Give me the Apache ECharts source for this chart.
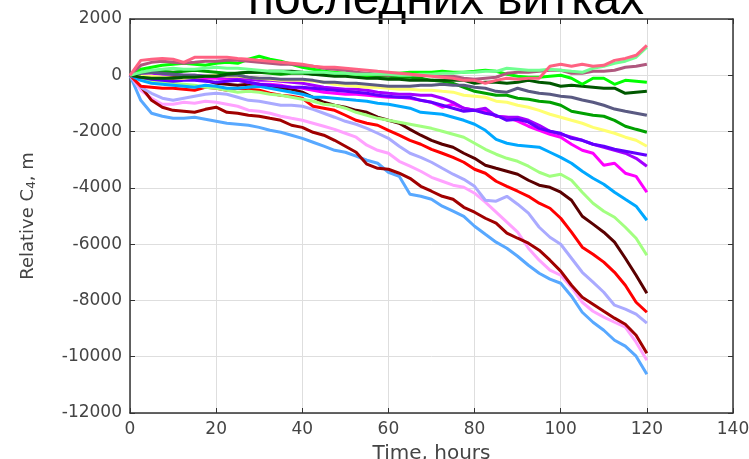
<!DOCTYPE html>
<html>
<head>
<meta charset="utf-8">
<script src="https://cdn.jsdelivr.net/npm/echarts@6/dist/echarts.min.js"></script>
<style>
  html, body { margin: 0; padding: 0; background: #ffffff; }
  #chart { width: 749px; height: 459px; }
</style>
</head>
<body>
<div id="chart"></div>
<script>
// Sampling times, hours
const hours = [0, 2.5, 5, 7.5, 10, 12.5, 15, 17.5, 20, 22.5, 25, 27.5, 30, 32.5, 35, 37.5, 40, 42.5, 45, 47.5, 50, 52.5, 55, 57.5, 60, 62.5, 65, 67.5, 70, 72.5, 75, 77.5, 80, 82.5, 85, 87.5, 90, 92.5, 95, 97.5, 100, 102.5, 105, 107.5, 110, 112.5, 115, 117.5, 120];

// Relative C4 per track, metres
const lightBlue  = [0, -890, -1350, -1455, -1530, -1530, -1490, -1560, -1630, -1705, -1740, -1775, -1850, -1955, -2025, -2130, -2240, -2380, -2520, -2665, -2735, -2875, -3020, -3125, -3445, -3590, -4225, -4300, -4405, -4650, -4830, -5010, -5365, -5650, -5930, -6145, -6430, -6750, -7035, -7245, -7390, -7850, -8420, -8775, -9060, -9415, -9625, -9980, -10620];
const pink       = [0, -530, -815, -1030, -1030, -960, -995, -925, -960, -1030, -1100, -1240, -1280, -1350, -1455, -1530, -1600, -1705, -1810, -1920, -2060, -2200, -2485, -2665, -2770, -3055, -3230, -3410, -3625, -3765, -3905, -3980, -4190, -4510, -4865, -5220, -5575, -6145, -6570, -6925, -7105, -7530, -8065, -8385, -8595, -8775, -8950, -9485, -10125];
const darkRed    = [0, -390, -890, -1135, -1245, -1280, -1315, -1210, -1135, -1315, -1350, -1420, -1455, -1530, -1600, -1775, -1850, -2025, -2130, -2310, -2520, -2735, -3160, -3305, -3340, -3480, -3660, -3945, -4120, -4300, -4405, -4690, -4865, -5080, -5255, -5610, -5790, -5965, -6215, -6570, -6960, -7460, -7885, -8135, -8385, -8630, -8845, -9235, -9875];
const lavender   = [0, -425, -640, -815, -890, -815, -745, -675, -640, -675, -780, -890, -925, -995, -1065, -1065, -1100, -1210, -1350, -1490, -1635, -1740, -1885, -2060, -2240, -2520, -2770, -2915, -3090, -3305, -3515, -3695, -3945, -4440, -4475, -4300, -4580, -4900, -5400, -5755, -6005, -6500, -7000, -7350, -7710, -8170, -8310, -8490, -8810];
const red        = [0, -390, -425, -460, -460, -495, -530, -425, -460, -530, -460, -495, -530, -640, -710, -745, -815, -1100, -1170, -1245, -1420, -1600, -1705, -1775, -1955, -2130, -2310, -2450, -2630, -2770, -2915, -3090, -3340, -3480, -3765, -3945, -4120, -4300, -4545, -4725, -5080, -5575, -6110, -6360, -6640, -7000, -7460, -8065, -8420];
const maroon     = [0, -70, -105, -105, -70, -35, -70, -180, -285, -320, -355, -320, -320, -390, -460, -495, -600, -780, -960, -1065, -1135, -1245, -1315, -1490, -1600, -1705, -1920, -2130, -2310, -2450, -2555, -2770, -2950, -3195, -3305, -3410, -3515, -3730, -3905, -3980, -4155, -4440, -5010, -5290, -5575, -5930, -6500, -7105, -7745];
const lightGreen = [0, -105, -180, -250, -285, -320, -355, -425, -460, -530, -600, -570, -600, -675, -710, -780, -850, -925, -1030, -1065, -1170, -1315, -1420, -1530, -1600, -1670, -1740, -1810, -1885, -1990, -2095, -2200, -2415, -2630, -2805, -2950, -3055, -3230, -3445, -3590, -3515, -3730, -4155, -4545, -4830, -5045, -5400, -5790, -6395];
const skyBlue    = [0, -180, -285, -320, -355, -390, -425, -355, -390, -460, -460, -425, -390, -460, -530, -600, -675, -780, -780, -815, -850, -890, -925, -995, -1030, -1100, -1170, -1315, -1350, -1385, -1490, -1600, -1740, -1955, -2275, -2415, -2485, -2520, -2555, -2735, -2915, -3125, -3410, -3660, -3870, -4155, -4405, -4650, -5150];
const magenta    = [0, -70, -105, -140, -180, -105, -70, -105, -105, -140, -180, -250, -320, -320, -355, -425, -460, -530, -600, -640, -675, -675, -710, -745, -780, -780, -815, -890, -960, -1135, -1030, -1170, -1245, -1280, -1455, -1490, -1630, -1810, -1955, -2095, -2200, -2450, -2665, -2770, -3195, -3125, -3480, -3590, -4155];
const purple     = [0, 70, 70, 35, 35, 0, 0, -35, -35, -70, -105, -140, -180, -180, -215, -250, -285, -355, -425, -460, -495, -495, -530, -600, -640, -675, -675, -710, -710, -815, -960, -1170, -1245, -1170, -1455, -1490, -1490, -1600, -1775, -1990, -2095, -2200, -2310, -2450, -2555, -2665, -2770, -2950, -3230];
const blueViolet = [0, -70, -140, -180, -215, -180, -180, -215, -250, -215, -180, -250, -320, -355, -390, -425, -425, -460, -495, -530, -570, -600, -640, -710, -745, -780, -780, -890, -960, -1065, -1170, -1280, -1245, -1350, -1420, -1600, -1565, -1665, -1885, -1990, -2060, -2240, -2310, -2450, -2520, -2630, -2700, -2770, -2840];
const yellow     = [0, -35, -35, -70, -105, -105, -70, -35, 0, -35, -35, -70, -105, -140, -180, -180, -180, -215, -250, -320, -355, -390, -425, -425, -460, -495, -495, -530, -530, -570, -600, -710, -745, -780, -920, -960, -1065, -1135, -1245, -1385, -1490, -1600, -1705, -1850, -1955, -2060, -2200, -2310, -2520];
const green      = [0, 105, 180, 140, 105, 140, 180, 140, 105, 70, 70, 105, 105, 70, 35, 70, 70, 35, 35, 0, 0, -35, -70, -35, -35, -70, -70, -105, -180, -215, -285, -425, -570, -640, -710, -710, -815, -850, -925, -960, -1065, -1280, -1350, -1420, -1455, -1600, -1810, -1920, -2025];
const slate      = [0, 70, 105, 70, 35, 0, 0, -35, -35, 0, 0, -70, -105, -105, -140, -140, -140, -180, -250, -250, -285, -285, -320, -355, -390, -390, -390, -355, -355, -320, -355, -355, -425, -460, -570, -600, -460, -565, -640, -675, -745, -780, -880, -960, -1065, -1200, -1280, -1350, -1420];
const darkGreen  = [0, -70, -105, -105, -105, -70, -70, -35, -35, 35, 70, 105, 105, 140, 140, 140, 105, 35, 0, -35, -35, -70, -105, -105, -140, -140, -180, -180, -180, -180, -180, -180, -285, -250, -250, -285, -250, -180, -250, -285, -390, -355, -390, -425, -460, -460, -640, -600, -570];
const brightGreen= [0, 215, 285, 355, 390, 425, 390, 355, 425, 460, 425, 570, 675, 570, 500, 390, 285, 215, 140, 105, 70, 35, 0, 35, 70, 70, 105, 105, 105, 140, 105, 105, 140, 180, 140, 35, -35, -70, -70, -35, 0, -105, -320, -105, -105, -320, -180, -215, -250];
const mauve      = [0, 355, 460, 500, 460, 425, 460, 500, 500, 530, 530, 500, 460, 425, 390, 390, 355, 320, 250, 215, 180, 105, 70, 35, 0, 35, 35, 0, 0, -35, -35, -105, -140, -105, -70, 70, 105, 105, 140, 180, 180, 70, 70, 140, 140, 180, 285, 320, 390];
const mint       = [0, 105, 180, 215, 250, 215, 215, 250, 285, 250, 250, 215, 180, 140, 140, 105, 105, 105, 105, 70, 70, 35, 35, 35, 35, 0, 0, 35, 35, 70, 70, 105, 105, 140, 140, 250, 215, 180, 180, 215, 180, 140, 105, 250, 320, 425, 500, 640, 1000];
const rose       = [0, 530, 570, 600, 570, 460, 640, 640, 640, 640, 600, 570, 530, 500, 460, 425, 390, 320, 285, 285, 250, 215, 180, 140, 105, 70, 35, 0, -35, -70, -105, -180, -180, -285, -180, -105, -140, -105, -105, 320, 390, 320, 390, 320, 355, 530, 600, 710, 1065];

// Axis ticks
const xTicks = [0, 20, 40, 60, 80, 100, 120, 140];
const yTicks = [-12000, -10000, -8000, -6000, -4000, -2000, 0, 2000];

const tracks = [
  { values: lightBlue,   color: '#58a8ff' },
  { values: pink,        color: '#ffa2ff' },
  { values: darkRed,     color: '#a00000' },
  { values: lavender,    color: '#aaaaff' },
  { values: red,         color: '#ff0000' },
  { values: maroon,      color: '#5a0000' },
  { values: lightGreen,  color: '#a2ff80' },
  { values: skyBlue,     color: '#00a8ff' },
  { values: magenta,     color: '#ff00ff' },
  { values: purple,      color: '#a400ff' },
  { values: blueViolet,  color: '#6200ff' },
  { values: yellow,      color: '#ffff70' },
  { values: green,       color: '#00a000' },
  { values: slate,       color: '#5a5a82' },
  { values: darkGreen,   color: '#005800' },
  { values: brightGreen, color: '#00ff00' },
  { values: mauve,       color: '#b0587e' },
  { values: mint,        color: '#70ff90' },
  { values: rose,        color: '#ff6282' }
];

const font = 'DejaVu Sans';
const axisColor = '#333333';
const labelColor = '#444444';
const gridColor = '#dedede';
const plain = v => String(v);

const chart = echarts.init(document.getElementById('chart'), null, { renderer: 'canvas' });

const option = {
  animation: false,
  backgroundColor: '#ffffff',
  grid: { left: 130, right: 16, top: 19, bottom: 46, containLabel: false, outerBoundsMode: 'none' },
  graphic: [{
    type: 'text',
    x: 446,
    y: 1,
    silent: true,
    style: {
      text: 'последних витках',
      font: '48px "Liberation Sans"',
      fill: '#000000',
      align: 'center',
      verticalAlign: 'middle'
    }
  }],
  xAxis: [{
    type: 'value',
    min: xTicks[0],
    max: xTicks[xTicks.length - 1],
    interval: 20,
    name: 'Time, hours',
    nameLocation: 'middle',
    nameGap: 31,
    nameTextStyle: { fontFamily: font, fontSize: 20, color: labelColor },
    axisLine: { show: true, onZero: false, lineStyle: { color: axisColor, width: 1.5 } },
    axisTick: { show: true, inside: true, length: 5, lineStyle: { color: axisColor } },
    axisLabel: { fontFamily: font, fontSize: 17, color: labelColor, margin: 8, formatter: plain },
    splitLine: { show: true, lineStyle: { color: gridColor, width: 1 } }
  }, {
    type: 'value',
    position: 'top',
    min: xTicks[0],
    max: xTicks[xTicks.length - 1],
    interval: 20,
    axisLine: { show: true, onZero: false, lineStyle: { color: axisColor, width: 1.5 } },
    axisTick: { show: true, inside: true, length: 5, lineStyle: { color: axisColor } },
    axisLabel: { show: false },
    splitLine: { show: false }
  }],
  yAxis: [{
    type: 'value',
    min: yTicks[0],
    max: yTicks[yTicks.length - 1],
    interval: 2000,
    name: 'Relative C{sub|4}, m',
    nameLocation: 'middle',
    nameGap: 92,
    nameRotate: 90,
    nameTextStyle: {
      fontFamily: font, fontSize: 18, color: labelColor,
      rich: { sub: { fontFamily: font, fontSize: 12, color: labelColor, verticalAlign: 'bottom', padding: [8, 0, 0, 0] } }
    },
    axisLine: { show: true, onZero: false, lineStyle: { color: axisColor, width: 1.5 } },
    axisTick: { show: true, inside: true, length: 5, lineStyle: { color: axisColor } },
    axisLabel: { fontFamily: font, fontSize: 17, color: labelColor, margin: 8, formatter: plain },
    splitLine: { show: true, lineStyle: { color: gridColor, width: 1 } }
  }, {
    type: 'value',
    position: 'right',
    min: yTicks[0],
    max: yTicks[yTicks.length - 1],
    interval: 2000,
    axisLine: { show: true, onZero: false, lineStyle: { color: axisColor, width: 1.5 } },
    axisTick: { show: true, inside: true, length: 5, lineStyle: { color: axisColor } },
    axisLabel: { show: false },
    splitLine: { show: false }
  }],
  series: tracks.map(tr => ({
    type: 'line',
    xAxisIndex: 0,
    yAxisIndex: 0,
    data: hours.map((h, i) => [h, tr.values[i]]),
    showSymbol: false,
    symbol: 'none',
    silent: true,
    lineStyle: { color: tr.color, width: 3 },
    itemStyle: { color: tr.color }
  }))
};

chart.setOption(option);
</script>
</body>
</html>
